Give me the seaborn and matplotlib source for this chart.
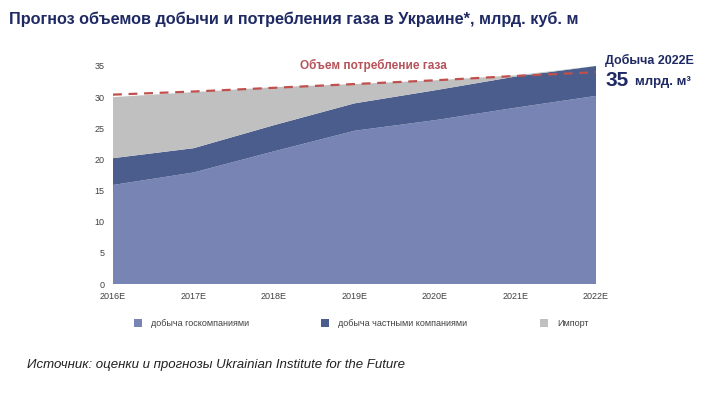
import pandas as pd
import matplotlib
matplotlib.use('Agg')
import matplotlib.pyplot as plt
import seaborn as sns

# data
years = ['2016E', '2017E', '2018E', '2019E', '2020E', '2021E', '2022E']
state = [15.9, 17.9, 21.3, 24.6, 26.3, 28.3, 30.2]
private = [4.3, 3.9, 4.2, 4.4, 4.8, 5.0, 4.8]
imports = [9.8, 9.0, 6.1, 3.1, 1.6, 0.2, 0.0]
consumption = [30.4, 30.9, 31.5, 32.1, 32.7, 33.4, 34.0]

legend_labels = ['добыча госкомпаниями', 'добыча частными компаниями', 'Импорт']
colors = ['#7884b4', '#4a5d8c', '#c0c0c0']

sns.set_style('white')
plt.rcParams['font.family'] = ['Liberation Sans', 'DejaVu Sans']

df = pd.DataFrame({'year': years, 'consumption': consumption})
x = list(range(len(years)))

fig = plt.figure(figsize=(7.22, 3.97), dpi=100)
ax = fig.add_axes([0.1565, 0.2846, 0.669, 0.5492])

ax.stackplot(x, state, private, imports, colors=colors, labels=legend_labels,
             linewidth=0, edgecolor='none')
sns.lineplot(x=x, y=df['consumption'], ax=ax, color='#c0504d',
             linestyle=(0, (4, 3)), linewidth=1.6, legend=False)

ax.set_xlim(0, len(years) - 1)
ax.set_ylim(0, 35)
ax.set_xticks(x)
ax.set_xticklabels(years)
ax.set_yticks(range(0, 36, 5))
ax.tick_params(axis='both', labelsize=6.5, colors='#404040', length=0, pad=6)
ax.set_xlabel('')
ax.set_ylabel('')
for s in ax.spines.values():
    s.set_visible(False)

ax.text(3.23, 35.05, 'Объем потребление газа', color='#b5525a', fontsize=8.5,
        fontweight='bold', ha='center', va='center')

# legend
handles, labels = ax.get_legend_handles_labels()
leg = fig.legend(handles, labels, loc='center', bbox_to_anchor=(0.5, 0.185),
                 ncol=3, frameon=False, fontsize=6.5, handlelength=0.9,
                 handleheight=0.9, columnspacing=8, handletextpad=1.0)
for t in leg.get_texts():
    t.set_color('#404040')

fig.text(0.013, 0.952, 'Прогноз объемов добычи и потребления газа в Украине*, млрд. куб. м',
         fontsize=11.7, fontweight='bold', color='#1f2a64', va='center')
fig.text(0.838, 0.848, 'Добыча 2022E', fontsize=9, fontweight='bold',
         color='#1f2a64', va='center')
fig.text(0.838, 0.797, '35', fontsize=15, fontweight='bold',
         color='#1f2a64', va='center')
fig.text(0.879, 0.793, 'млрд. м³', fontsize=9.5, fontweight='bold',
         color='#1f2a64', va='center')
fig.text(0.037, 0.08, 'Источник: оценки и прогнозы Ukrainian Institute for the Future',
         fontsize=9.5, style='italic', color='#222222', va='center')

fig.savefig('out.png', dpi=100)
